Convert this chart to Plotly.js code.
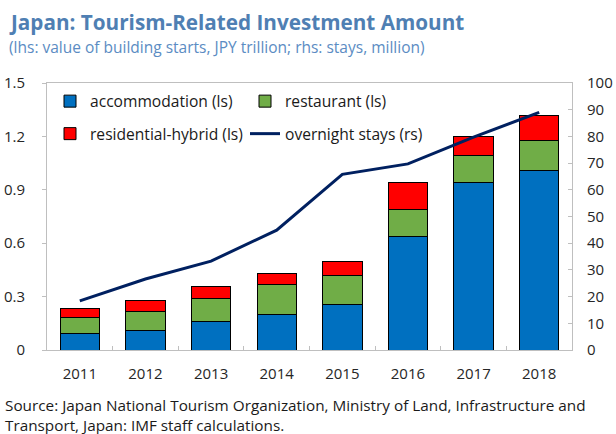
<!DOCTYPE html>
<html>
<head>
<meta charset="utf-8">
<script src="https://cdn.plot.ly/plotly-3.0.1.min.js"></script>
<style>html,body{margin:0;padding:0;background:#fff;}#chart{width:616px;height:434px;}</style>
</head>
<body>
<div id="chart"></div>
<script>
const years = ["2011","2012","2013","2014","2015","2016","2017","2018"];
const accommodation = [0.094, 0.109, 0.159, 0.197, 0.257, 0.635, 0.942, 1.011];
const restaurant    = [0.091, 0.108, 0.128, 0.170, 0.164, 0.153, 0.148, 0.165];
const residential   = [0.049, 0.060, 0.071, 0.064, 0.079, 0.154, 0.112, 0.139];
const overnightStays = [18.4, 26.6, 33.3, 44.9, 65.8, 69.7, 79.7, 89.0];

const FONT = "Open Sans, Noto Sans, sans-serif";
const L = 47, R = 572, T = 83, B = 350;
const px2x = p => (p - L) / (R - L);
const py2y = p => (B - p) / (B - T);

const barLine = {color: '#000000', width: 1};
const traces = [
  {type:'bar', name:'accommodation (ls)', x: years, y: accommodation, marker:{color:'#0070C0', line: barLine}, width:0.6, legend:'legend'},
  {type:'bar', name:'restaurant (ls)', x: years, y: restaurant, marker:{color:'#70AD47', line: barLine}, width:0.6, legend:'legend'},
  {type:'bar', name:'residential-hybrid (ls)', x: years, y: residential, marker:{color:'#FF0000', line: barLine}, width:0.6, legend:'legend2'},
  {type:'scatter', mode:'lines', name:'overnight stays (rs)', x: years, y: overnightStays, yaxis:'y2', line:{color:'#002060', width:3}, legend:'legend2'}
];

const legendFont = {family: FONT, size: 15.6, color:'#1a1a1a'};
const legendBase = {orientation:'h', xanchor:'left', yanchor:'middle', traceorder:'normal',
  entrywidth: 150, entrywidthmode:'pixels', font: legendFont, bgcolor:'rgba(0,0,0,0)', borderwidth:0};

const tickFont = {family: FONT, size: 15, color: '#262626'};
const layout = {
  width: 616, height: 434,
  margin: {l: L, r: 616 - R, t: T, b: 434 - B, pad: 0},
  paper_bgcolor: '#ffffff', plot_bgcolor: '#ffffff',
  barmode: 'stack',
  showlegend: true,
  legend: Object.assign({}, legendBase, {x: px2x(50), y: py2y(101.5)}),
  legend2: Object.assign({}, legendBase, {x: px2x(50), y: py2y(134)}),
  xaxis: {type:'category', showline:true, linecolor:'#bfbfbf', linewidth:1, mirror:true,
          ticks:'inside', tickson:'boundaries', ticklen:4, tickcolor:'#bfbfbf',
          tickfont: tickFont, ticklabelstandoff: 10, showgrid:false, zeroline:false, fixedrange:true},
  yaxis: {range:[0,1.5], dtick:0.3, tick0:0, showline:true, linecolor:'#bfbfbf', linewidth:1, mirror:true,
          ticks:'outside', ticklen:4, tickcolor:'#bfbfbf', tickfont: tickFont, ticklabelstandoff: 14,
          showgrid:false, zeroline:false, fixedrange:true},
  yaxis2: {range:[0,100], dtick:10, tick0:0, overlaying:'y', side:'right', showline:false,
           ticks:'inside', ticklen:4, tickcolor:'#bfbfbf', tickfont: tickFont, ticklabelstandoff: 14,
           showgrid:false, zeroline:false, fixedrange:true},
  annotations: [
    {xref:'paper', yref:'paper', x: px2x(7), y: py2y(22), xanchor:'left', yanchor:'middle', showarrow:false,
     text:'<b>Japan: Tourism-Related Investment Amount</b>', font:{family: FONT, size: 20.7, color:'#4F7FB3'}},
    {xref:'paper', yref:'paper', x: px2x(7), y: py2y(47), xanchor:'left', yanchor:'middle', showarrow:false,
     text:'(lhs: value of building starts, JPY trillion; rhs: stays, million)', font:{family: FONT, size: 15.5, color:'#5B8CC3'}},
    {xref:'paper', yref:'paper', x: px2x(4), y: py2y(415), xanchor:'left', yanchor:'middle', align:'left', showarrow:false,
     borderpad:0,
     text:'Source: Japan National Tourism Organization, Ministry of Land, Infrastructure and<br>Transport, Japan: IMF staff calculations.',
     font:{family: FONT, size: 15.3, color:'#1a1a1a'}}
  ]
};

Plotly.newPlot('chart', traces, layout, {displayModeBar:false, staticPlot:true});
</script>
</body>
</html>
